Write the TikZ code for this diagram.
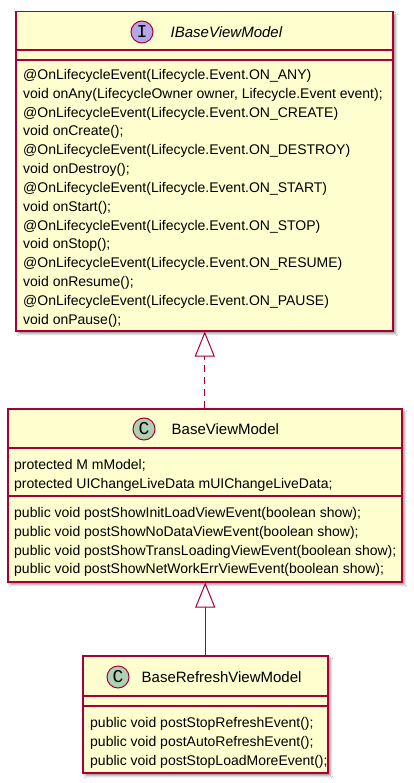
\documentclass[tikz,border=0pt]{standalone}
\usepackage{fontspec}
\setmainfont{Liberation Sans}
\newfontfamily\spotfont{Liberation Mono}
\usepackage{tikz}
\usetikzlibrary{arrows.meta}
\usetikzlibrary{positioning}
\usetikzlibrary{shadows.blur}
\definecolor{umlred}{HTML}{A80036}
\definecolor{umlfill}{HTML}{FEFECE}
\definecolor{ifacespot}{HTML}{B4A7E5}
\definecolor{classspot}{HTML}{ADD1B2}
\tikzstyle{classbox}=[
   rectangle,
   draw=umlred,
   fill=umlfill,
   line width=1.5pt,
   anchor=north west,
   inner sep=0pt,
   blur shadow={shadow xshift=3pt,shadow yshift=-3pt,shadow blur radius=2pt,shadow opacity=40}
]
\tikzstyle{spot}=[circle,draw=umlred,line width=1pt,minimum size=22pt,inner sep=0pt,
   font=\spotfont\fontsize{18}{18}\selectfont]
\tikzstyle{title}=[inner sep=0pt,font=\fontsize{15}{15}\selectfont]
\tikzstyle{members}=[anchor=north west,align=left,inner sep=0pt,
   font=\fontsize{14}{18.85}\selectfont]
\tikzstyle{divider}=[draw=umlred,line width=1.5pt]
\tikzstyle{realize}=[draw=umlred,line width=1pt,
   -{Triangle[open,length=25pt,width=20pt,fill=white]}]

\begin{document}
\begin{tikzpicture}[x=1pt,y=-1pt]
  \useasboundingbox[fill=white] (0,0) rectangle (413,783);

  % interface
  \node[classbox,minimum width=377pt,minimum height=319pt] (iface) at (15,11) {};
  \node[spot,fill=ifacespot] (ispot) at (142,32) {I};
  \node[title,anchor=west] (ititle) [right=17pt of ispot] {\itshape IBaseViewModel};
  \draw[divider] (iface.west |- 0,50) -- (iface.east |- 0,50);
  \draw[divider] (iface.west |- 0,60) -- (iface.east |- 0,60);
  \node[members] (iops) at (23,69) {%
    @OnLifecycleEvent(Lifecycle.Event.ON\_ANY)\\
    void onAny(LifecycleOwner owner, Lifecycle.Event event);\\
    @OnLifecycleEvent(Lifecycle.Event.ON\_CREATE)\\
    void onCreate();\\
    @OnLifecycleEvent(Lifecycle.Event.ON\_DESTROY)\\
    void onDestroy();\\
    @OnLifecycleEvent(Lifecycle.Event.ON\_START)\\
    void onStart();\\
    @OnLifecycleEvent(Lifecycle.Event.ON\_STOP)\\
    void onStop();\\
    @OnLifecycleEvent(Lifecycle.Event.ON\_RESUME)\\
    void onResume();\\
    @OnLifecycleEvent(Lifecycle.Event.ON\_PAUSE)\\
    void onPause();};

  % base class
  \node[classbox,minimum width=394pt,minimum height=173pt] (base) at (7,408) {};
  \node[spot,fill=classspot] (bspot) at (144,429) {C};
  \node[title,anchor=west] (btitle) [right=16pt of bspot] {BaseViewModel};
  \draw[divider] (base.west |- 0,448) -- (base.east |- 0,448);
  \draw[divider] (base.west |- 0,496) -- (base.east |- 0,496);
  \node[members] (bfields) at (14,459) {%
    protected M mModel;\\
    protected UIChangeLiveData mUIChangeLiveData;};
  \node[members] (bops) at (14,507) {%
    public void postShowInitLoadViewEvent(boolean show);\\
    public void postShowNoDataViewEvent(boolean show);\\
    public void postShowTransLoadingViewEvent(boolean show);\\
    public void postShowNetWorkErrViewEvent(boolean show);};

  % refresh class
  \node[classbox,minimum width=245pt,minimum height=117pt] (refresh) at (82,655) {};
  \node[spot,fill=classspot] (rspot) at (118,677) {C};
  \node[title,anchor=west] (rtitle) [right=12pt of rspot] {BaseRefreshViewModel};
  \draw[divider] (refresh.west |- 0,696) -- (refresh.east |- 0,696);
  \draw[divider] (refresh.west |- 0,706) -- (refresh.east |- 0,706);
  \node[members] (rops) at (90,717) {%
    public void postStopRefreshEvent();\\
    public void postAutoRefreshEvent();\\
    public void postStopLoadMoreEvent();};

  \draw[realize,dash pattern=on 7pt off 5pt] (base.north) -- (base.north |- iface.south);
  \draw[realize] (refresh.north) -- (refresh.north |- base.south);

\end{tikzpicture}
\end{document}
